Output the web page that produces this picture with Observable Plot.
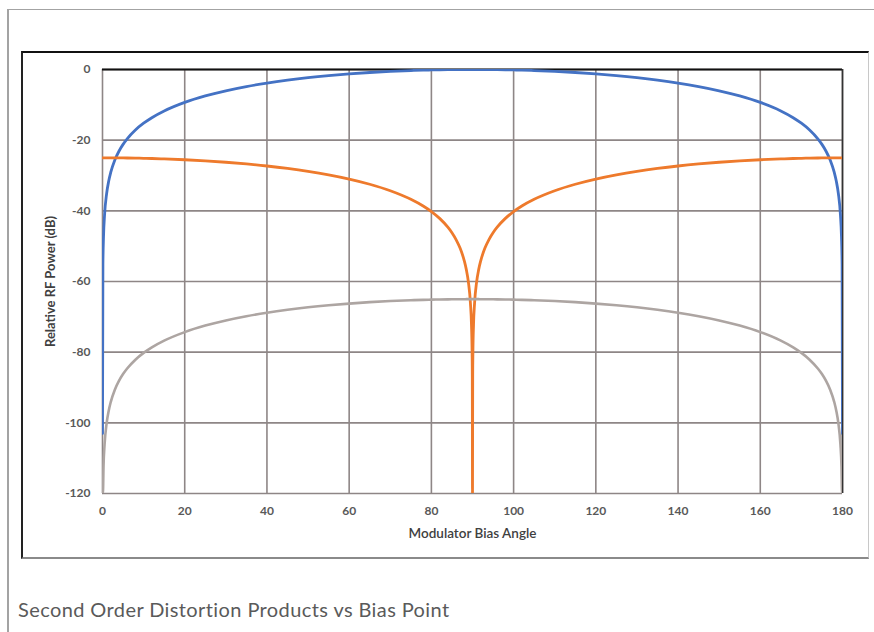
<!DOCTYPE html>
<html><head><meta charset="utf-8">
<script src="https://cdn.jsdelivr.net/npm/d3@7"></script>
<script src="https://cdn.jsdelivr.net/npm/@observablehq/plot@0.6"></script>
<style>
body{margin:0;background:#fff;width:874px;height:632px;position:relative;overflow:hidden;font-family:Lato,sans-serif}
#outer{position:absolute;left:7px;top:9px;width:900px;height:700px;border-left:2px solid #a3a3a3;border-top:1.5px solid #a3a3a3}
#inner{position:absolute;left:21px;top:51px;width:845px;height:504px;border-top:2px solid #111;border-left:2px solid #222;border-right:1px solid #c8c8c8;border-bottom:2px solid #8a8a8a;background:#fff}
#inner svg{display:block}
#caption{position:absolute;left:18px;top:597px;font:20px Lato,sans-serif;letter-spacing:0.4px;color:#5a5a5a;white-space:nowrap}
</style></head><body>
<div id="outer"></div>
<div id="inner"></div>
<div id="caption">Second Order Distortion Products vs Bias Point</div>
<script>
const xTicks = [0, 20, 40, 60, 80, 100, 120, 140, 160, 180];
const yTicks = [0, -20, -40, -60, -80, -100, -120];
const xTitle = "Modulator Bias Angle";
const yTitle = "Relative RF Power (dB)";

const angles = [0, 0.1, 0.25, 0.5, 1, 1.5, 2, 3, 4, 5, 6, 8, 10, 12, 15, 20, 25, 30, 35, 40, 45, 50, 55, 60, 65, 70, 75, 78, 80, 82, 84, 85, 86, 87, 88, 88.5, 89, 89.5, 89.75, 89.9, 89.95, 90,
  90.05, 90.1, 90.25, 90.5, 91, 91.5, 92, 93, 94, 95, 96, 98, 100, 102, 105, 110, 115, 120, 125, 130, 135, 140, 145, 150, 155, 160, 165, 168, 170, 172, 174, 175, 176, 177, 178, 178.5, 179, 179.5, 179.75, 179.9, 180];

const fundamental = [-103, -55.16, -47.2, -41.18, -35.16, -31.64, -29.14, -25.62, -23.13, -21.19, -19.62, -17.13, -15.21, -13.64, -11.74, -9.32, -7.48, -6.02, -4.83, -3.84, -3.01, -2.31, -1.73, -1.25, -0.85, -0.54, -0.3, -0.19, -0.13, -0.09, -0.05, -0.03, -0.02, -0.01, -0.01, 0, 0, 0, 0, 0, 0, 0,
  0, 0, 0, 0, 0, 0, -0.01, -0.01, -0.02, -0.03, -0.05, -0.09, -0.13, -0.19, -0.3, -0.54, -0.85, -1.25, -1.73, -2.31, -3.01, -3.84, -4.83, -6.02, -7.48, -9.32, -11.74, -13.64, -15.21, -17.13, -19.62, -21.19, -23.13, -25.62, -29.14, -31.64, -35.16, -41.18, -47.2, -55.16, -103];

const secondOrder = [-25, -25, -25, -25, -25, -25, -25, -25.01, -25.01, -25.03, -25.05, -25.09, -25.13, -25.19, -25.3, -25.54, -25.85, -26.25, -26.73, -27.31, -28.01, -28.84, -29.83, -31.02, -32.48, -34.32, -36.74, -38.64, -40.21, -42.13, -44.62, -46.19, -48.13, -50.62, -54.14, -56.64, -60.16, -66.18, -72.2, -80.16, -86.18, -120,
  -86.18, -80.16, -72.2, -66.18, -60.16, -56.64, -54.14, -50.62, -48.13, -46.19, -44.62, -42.13, -40.21, -38.64, -36.74, -34.32, -32.48, -31.02, -29.83, -28.84, -28.01, -27.31, -26.73, -26.25, -25.85, -25.54, -25.3, -25.19, -25.13, -25.09, -25.05, -25.03, -25.01, -25.01, -25, -25, -25, -25, -25, -25, -25];

const thirdSeries = [-120, -120, -112.2, -106.18, -100.16, -96.64, -94.14, -90.62, -88.13, -86.19, -84.62, -82.13, -80.21, -78.64, -76.74, -74.32, -72.48, -71.02, -69.83, -68.84, -68.01, -67.31, -66.73, -66.25, -65.85, -65.54, -65.3, -65.19, -65.13, -65.09, -65.05, -65.03, -65.02, -65.01, -65.01, -65, -65, -65, -65, -65, -65, -65,
  -65, -65, -65, -65, -65, -65, -65.01, -65.01, -65.02, -65.03, -65.05, -65.09, -65.13, -65.19, -65.3, -65.54, -65.85, -66.25, -66.73, -67.31, -68.01, -68.84, -69.83, -71.02, -72.48, -74.32, -76.74, -78.64, -80.21, -82.13, -84.62, -86.19, -88.13, -90.62, -94.14, -96.64, -100.16, -106.18, -112.2, -120, -120];

const seriesNames = ["Fundamental", "Second order", "Other"];
const seriesValues = [fundamental, secondOrder, thirdSeries];
const seriesColors = ["#4472C4", "#EE7A2C", "#ADA5A2"];

const rows = seriesNames.map((name, i) => angles.map((a, j) => ({series: name, angle: a, db: seriesValues[i][j]})));

const lineMarks = rows.map((data, i) => Plot.line(data, {
  x: "angle", y: "db", stroke: seriesColors[i], strokeWidth: i === 2 ? 2.6 : 2.8, curve: "monotone-x", clip: true
}));

const chart = Plot.plot({
  width: 845, height: 504,
  marginLeft: 79, marginRight: 26, marginTop: 16, marginBottom: 64,
  style: {fontFamily: "Lato, sans-serif", fontSize: "12px", color: "#595959", background: "white", overflow: "visible"},
  x: {domain: [0, 180]},
  y: {domain: [-120, 0]},
  marks: [
    Plot.gridX(xTicks, {stroke: "#8e8686", strokeOpacity: 1, strokeWidth: 1.6}),
    Plot.gridY(yTicks, {stroke: "#8e8686", strokeOpacity: 1, strokeWidth: 1.6}),
    Plot.ruleY([0], {stroke: "#111", strokeWidth: 2.2}),
    Plot.ruleX([180], {stroke: "#333", strokeWidth: 1.6}),
    ...lineMarks,
    Plot.axisX(xTicks, {tickSize: 0, tickPadding: 13, fontWeight: "bold", fill: "#595959", label: null}),
    Plot.axisY(yTicks, {tickSize: 0, tickPadding: 12, fontWeight: "bold", fill: "#595959", tickFormat: d => String(d), label: null}),
    Plot.text([xTitle], {frameAnchor: "bottom", dy: 40, lineAnchor: "middle", textAnchor: "middle", fontWeight: 600, fontSize: 13.5, fill: "#404040"}),
    Plot.text([yTitle], {frameAnchor: "left", dx: -52, rotate: -90, lineAnchor: "middle", textAnchor: "middle", fontWeight: "bold", fontSize: 13, fill: "#404040"})
  ]
});
document.getElementById("inner").appendChild(chart);
</script>
</body></html>
